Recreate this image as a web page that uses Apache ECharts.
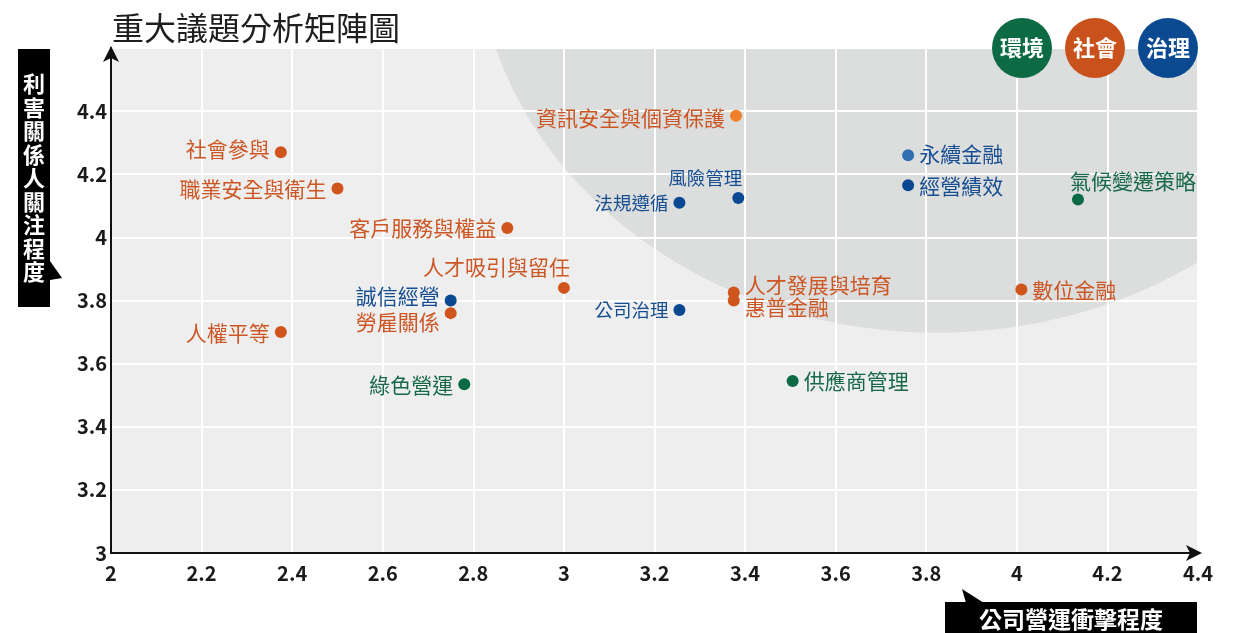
<!DOCTYPE html>
<html>
<head>
<meta charset="utf-8">
<script src="https://cdn.jsdelivr.net/npm/echarts@6/dist/echarts.min.js"></script>
<style>
html,body{margin:0;padding:0;background:#fff;}
#chart{width:1239px;height:633px;}
</style>
</head>
<body>
<div id="chart"></div>
<script>
// ---- data ----
const issueNames = ['社會參與','職業安全與衛生','客戶服務與權益','人才吸引與留任','誠信經營','勞雇關係','人權平等','綠色營運','資訊安全與個資保護','風險管理','法規遵循','公司治理','人才發展與培育','惠普金融','永續金融','經營績效','氣候變遷策略','數位金融','供應商管理'];
const impactValues = [2.375, 2.5, 2.875, 3.0, 2.75, 2.75, 2.375, 2.78, 3.38, 3.385, 3.255, 3.255, 3.375, 3.375, 3.76, 3.76, 4.135, 4.01, 3.505];
const concernValues = [4.27, 4.155, 4.03, 3.84, 3.80, 3.76, 3.70, 3.535, 4.385, 4.125, 4.11, 3.77, 3.825, 3.80, 4.26, 4.165, 4.12, 3.835, 3.545];
const issueGroups = ['社會','社會','社會','社會','治理','社會','社會','環境','社會','治理','治理','治理','社會','社會','治理','治理','環境','社會','環境'];
const groupNames = ['環境','社會','治理'];
const xTicks = [2, 2.2, 2.4, 2.6, 2.8, 3, 3.2, 3.4, 3.6, 3.8, 4, 4.2, 4.4];
const yTicks = [3, 3.2, 3.4, 3.6, 3.8, 4, 4.2, 4.4];
const zoneCenter = [3.823, 4.966];
const zoneRadius = [1.017, 1.268];

// ---- styles ----
const FONT = '"Noto Sans CJK TC", "Noto Sans", sans-serif';
const groupDot = {'環境':'#0a6a44','社會':'#cf551c','治理':'#0a4892'};
const groupText = {'環境':'#17694a','社會':'#cc5624','治理':'#174e91'};
const legendFill = {'環境':'#0c6b43','社會':'#c9511c','治理':'#0b4a90'};
const dotOverride = {'資訊安全與個資保護':'#f0802c','永續金融':'#3271b1'};
const labelPlace = {
  '社會參與':{position:'left',offset:[0,-3]},
  '職業安全與衛生':{position:'left',offset:[0,1]},
  '客戶服務與權益':{position:'left',offset:[0,0]},
  '人才吸引與留任':{position:'left',offset:[17,-21]},
  '誠信經營':{position:'left',offset:[0,-4]},
  '勞雇關係':{position:'left',offset:[0,9]},
  '人權平等':{position:'left',offset:[0,1]},
  '綠色營運':{position:'left',offset:[0,1]},
  '資訊安全與個資保護':{position:'left',offset:[0,2]},
  '風險管理':{position:'left',offset:[15,-20],size:18.5},
  '法規遵循':{position:'left',offset:[0,0],size:18.5},
  '公司治理':{position:'left',offset:[0,0],size:18.5},
  '人才發展與培育':{position:'right',offset:[0,-8]},
  '惠普金融':{position:'right',offset:[0,7]},
  '永續金融':{position:'right',offset:[0,-1]},
  '經營績效':{position:'right',offset:[0,1]},
  '氣候變遷策略':{position:'right',offset:[-19,-18]},
  '數位金融':{position:'right',offset:[0,1]},
  '供應商管理':{position:'right',offset:[0,0]}
};

const series = [{
  type:'custom',
  z:1,
  silent:true,
  data:[zoneCenter.concat(zoneRadius)],
  renderItem:function(params, api){
    const cs = params.coordSys;
    const c = api.coord([api.value(0), api.value(1)]);
    const s = api.size([api.value(2), api.value(3)]);
    return {
      type:'group',
      children:[
        {type:'rect', shape:{x:cs.x,y:cs.y,width:cs.width,height:cs.height}, style:{fill:'#eeeeee'}},
        {type:'group', clipPath:{type:'rect', shape:{x:cs.x,y:cs.y,width:cs.width,height:cs.height}},
          children:[{type:'circle', shape:{cx:0,cy:0,r:s[1]}, x:c[0], y:c[1], scaleX:s[0]/s[1], style:{fill:'#dcdddd'}}]}
      ]
    };
  }
}];

groupNames.forEach(function(g){
  const data = [];
  issueNames.forEach(function(n, i){
    if (issueGroups[i] !== g) return;
    const p = labelPlace[n];
    const lbl = {position:p.position, offset:p.offset};
    if (p.size) lbl.fontSize = p.size;
    data.push({
      name:n,
      value:[impactValues[i], concernValues[i]],
      itemStyle:{color: dotOverride[n] || groupDot[g], opacity:1},
      label:lbl
    });
  });
  series.push({
    type:'scatter',
    name:g,
    z:5,
    symbolSize:12,
    itemStyle:{opacity:1},
    data:data,
    label:{
      show:true,
      formatter:'{b}',
      distance:5,
      color:groupText[g],
      fontSize:21,
      fontFamily:FONT
    },
    emphasis:{disabled:true}
  });
});

const graphics = [
  // y-axis title
  {type:'rect', left:18, top:49, shape:{width:32,height:258}, style:{fill:'#000'}, z:10},
  {type:'polygon', shape:{points:[[50,261],[62,278],[50,280]]}, style:{fill:'#000'}, z:10},
  {type:'text', x:34, y:178, z:11, style:{text:'利害關係人關注程度'.split('').join('\n'), fill:'#fff', font:'bold 22px '+FONT, lineHeight:23.5, align:'center', verticalAlign:'middle'}},
  // x-axis title
  {type:'rect', left:945, top:602, shape:{width:252,height:40}, style:{fill:'#000'}, z:10},
  {type:'polygon', shape:{points:[[962,589],[984,603],[966,603]]}, style:{fill:'#000'}, z:10},
  {type:'text', x:1071, y:619, z:11, style:{text:'公司營運衝擊程度', fill:'#fff', font:'bold 23px '+FONT, align:'center', verticalAlign:'middle'}}
];
const legendX = [1022, 1095, 1168];
groupNames.forEach(function(g, i){
  graphics.push({type:'circle', shape:{cx:legendX[i], cy:48, r:30}, style:{fill:legendFill[g]}, z:20});
  graphics.push({type:'text', x:legendX[i], y:48, z:21, style:{text:g, fill:'#fff', font:'bold 22px '+FONT, align:'center', verticalAlign:'middle'}});
});

const chart = echarts.init(document.getElementById('chart'), null, {renderer:'canvas'});
chart.setOption({
  animation:false,
  backgroundColor:'#ffffff',
  title:{text:'重大議題分析矩陣圖', left:107, top:7, textStyle:{fontSize:32, fontWeight:'normal', color:'#1e1e1e', fontFamily:FONT}},
  grid:{left:111, right:41, top:48, bottom:80, show:false},
  xAxis:{
    type:'value', min:xTicks[0], max:xTicks[xTicks.length-1], interval:0.2, z:3,
    axisLine:{show:true, onZero:false, lineStyle:{color:'#111', width:2}, symbol:['none','arrow'], symbolSize:[12,16], symbolOffset:[0,4]},
    axisTick:{show:false},
    splitLine:{show:true, lineStyle:{color:'#ffffff', width:2}},
    axisLabel:{margin:10, fontSize:20, fontWeight:'bold', color:'#1a1a1a', fontFamily:FONT,
      formatter:function(v){ return xTicks.some(function(t){return Math.abs(t-v)<1e-6;}) ? String(+v.toFixed(1)) : ''; }}
  },
  yAxis:{
    type:'value', min:3, max:4.6, interval:0.2, z:3,
    axisLine:{show:true, onZero:false, lineStyle:{color:'#111', width:2}, symbol:['none','arrow'], symbolSize:[12,16], symbolOffset:[0,2]},
    axisTick:{show:false},
    splitLine:{show:true, lineStyle:{color:'#ffffff', width:2}},
    axisLabel:{margin:4, fontSize:20, fontWeight:'bold', color:'#1a1a1a', fontFamily:FONT,
      formatter:function(v){ return yTicks.some(function(t){return Math.abs(t-v)<1e-6;}) ? String(+v.toFixed(1)) : ''; }}
  },
  graphic:graphics,
  series:series
});
</script>
</body>
</html>
